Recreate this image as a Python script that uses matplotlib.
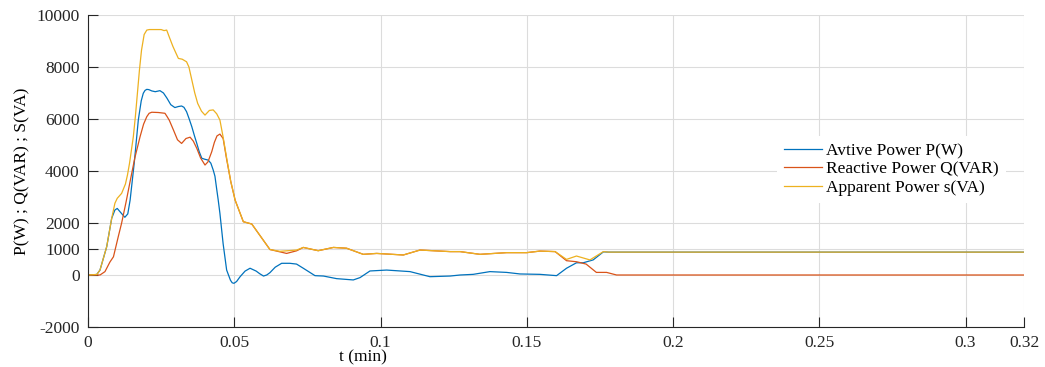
import matplotlib
matplotlib.use("Agg")
import matplotlib.pyplot as plt

# values (t in min, power in W / VAR / VA)
t_p = [0, 0.003, 0.0041, 0.0064, 0.0081, 0.0092, 0.0100, 0.0112, 0.0126, 0.0136, 0.0144,
       0.0158, 0.0172, 0.0182, 0.0189, 0.0195, 0.0201, 0.0208, 0.0218, 0.0230, 0.0246,
       0.0258, 0.0270, 0.0283, 0.0297, 0.0309, 0.0320, 0.0328, 0.0337, 0.0346, 0.0355,
       0.0364, 0.0372, 0.0380, 0.0389, 0.0400, 0.0411, 0.0420, 0.0428, 0.0434, 0.0440,
       0.0445, 0.0451, 0.0462, 0.0474, 0.0487, 0.0493, 0.0499, 0.0508, 0.0520, 0.0537,
       0.0554, 0.0575, 0.0587, 0.0600, 0.0611, 0.0622, 0.0640, 0.0662, 0.0690, 0.0713,
       0.0736, 0.0776, 0.0805, 0.0850, 0.0907, 0.0930, 0.0964, 0.1021, 0.1101, 0.1169,
       0.1238, 0.1272, 0.1317, 0.1374, 0.1431, 0.1477, 0.1545, 0.1602, 0.1636, 0.1670,
       0.1693, 0.1727, 0.1762, 0.1780, 0.2500, 0.3200]
p = [0, 20, 190, 1090, 2180, 2500, 2560, 2400, 2220, 2350, 2880,
     4300, 5960, 6700, 6990, 7100, 7140, 7130, 7080, 7050, 7090,
     7000, 6800, 6550, 6440, 6480, 6500, 6450, 6280, 6000, 5700,
     5350, 5060, 4750, 4490, 4450, 4420, 4300, 4040, 3800, 3300,
     2900, 2370, 1200, 190, -200, -300, -320, -250, -65, 150,
     260, 150, 50, -40, 0, 90, 300, 450, 450, 420,
     260, -25, -40, -140, -190, -100, 155, 190, 130, -65,
     -40, 0, 25, 130, 100, 40, 25, -25, 260, 470,
     470, 580, 890, 880, 880, 880]

t_q = [0, 0.0041, 0.0058, 0.0075, 0.0087, 0.0104, 0.0115, 0.0130, 0.0144, 0.0160, 0.0178,
       0.0190, 0.0201, 0.0209, 0.0218, 0.0240, 0.0263, 0.0270, 0.0278, 0.0292, 0.0306,
       0.0320, 0.0335, 0.0349, 0.0360, 0.0372, 0.0385, 0.0400, 0.0410, 0.0423, 0.0432,
       0.0441, 0.0451, 0.0462, 0.0474, 0.0488, 0.0503, 0.0531, 0.0560, 0.0622, 0.0679,
       0.0713, 0.0736, 0.0787, 0.0839, 0.0884, 0.0941, 0.0987, 0.1078, 0.1135, 0.1238,
       0.1272, 0.1340, 0.1431, 0.1500, 0.1545, 0.1597, 0.1636, 0.1670, 0.1703, 0.1738,
       0.1773, 0.1807, 0.2500, 0.3200]
q = [0, 0, 130, 500, 700, 1500, 2000, 2800, 3600, 4500, 5320,
     5800, 6090, 6220, 6260, 6250, 6220, 6100, 5950, 5580, 5200,
     5060, 5250, 5300, 5150, 4870, 4500, 4230, 4350, 4740, 5100,
     5350, 5420, 5250, 4450, 3600, 2880, 2050, 1960, 980, 830,
     930, 1060, 935, 1060, 1030, 795, 830, 770, 960, 900,
     900, 795, 860, 860, 920, 900, 550, 510, 420, 100,
     100, 0, 0, 0]

t_s = [0, 0.003, 0.0041, 0.0064, 0.0081, 0.0092, 0.0100, 0.0115, 0.0128, 0.0135, 0.0142,
       0.0155, 0.0162, 0.0169, 0.0176, 0.0183, 0.0192, 0.0201, 0.0210, 0.0235, 0.0250,
       0.0260, 0.0269, 0.0278, 0.0290, 0.0300, 0.0309, 0.0322, 0.0337, 0.0345, 0.0355,
       0.0365, 0.0375, 0.0388, 0.0400, 0.0415, 0.0428, 0.0440, 0.0451, 0.0462, 0.0474,
       0.0488, 0.0503, 0.0531, 0.0560, 0.0622, 0.0656, 0.0713, 0.0736, 0.0787, 0.0839,
       0.0884, 0.0941, 0.0987, 0.1078, 0.1135, 0.1238, 0.1272, 0.1340, 0.1431, 0.1500,
       0.1545, 0.1597, 0.1636, 0.1670, 0.1716, 0.1762, 0.1780, 0.2500, 0.3200]
s = [0, 20, 190, 1090, 2180, 2760, 2950, 3140, 3500, 3850, 4300,
     5320, 6100, 7000, 7900, 8650, 9250, 9420, 9440, 9440, 9440,
     9400, 9420, 9150, 8800, 8550, 8330, 8300, 8200, 8000, 7500,
     7000, 6600, 6300, 6150, 6330, 6350, 6200, 5960, 5300, 4500,
     3600, 2880, 2050, 1960, 980, 910, 960, 1060, 935, 1060,
     1030, 795, 830, 770, 960, 900, 900, 795, 860, 860,
     920, 900, 600, 730, 580, 900, 880, 880, 880]

x_ticks = [0, 0.05, 0.1, 0.15, 0.2, 0.25, 0.3, 0.32]
x_labels = ["0", "0.05", "0.1", "0.15", "0.2", "0.25", "0.3", "0.32"]
y_ticks = [-2000, 0, 1000, 2000, 4000, 6000, 8000, 10000]

plt.rcParams['font.family'] = ['Liberation Serif', 'DejaVu Serif']
plt.rcParams['font.size'] = 12.5
plt.rcParams['axes.unicode_minus'] = False

fig = plt.figure(figsize=(10.45, 3.67), dpi=100)
ax = fig.add_axes([88 / 1045, 1 - 327 / 367, 936 / 1045, 312 / 367])

ax.plot(t_p, p, color='#0072BD', lw=0.9, label='Avtive Power P(W)')
ax.plot(t_q, q, color='#D95319', lw=0.9, label='Reactive Power Q(VAR)')
ax.plot(t_s, s, color='#EDB120', lw=0.9, label='Apparent Power s(VA)')

ax.set_xlim(0, 0.32)
ax.set_ylim(-2000, 10000)
ax.set_xticks(x_ticks)
ax.set_xticklabels(x_labels)
ax.set_yticks(y_ticks)
ax.grid(True, color='#dcdcdc', lw=0.8)
ax.set_axisbelow(True)
ax.tick_params(direction='in', length=7, width=0.8, colors='#262626', pad=6)
for side in ['top', 'right']:
    ax.spines[side].set_visible(False)
for side in ['left', 'bottom']:
    ax.spines[side].set_color('#262626')

ax.set_xlabel('t (min)')
ax.xaxis.set_label_coords((363 - 88) / 936, -0.073)
ax.set_ylabel('P(W) ; Q(VAR) ; S(VA)', labelpad=4)

leg = ax.legend(loc='upper left', bbox_to_anchor=(0.736, 0.612), frameon=True,
                fancybox=False, edgecolor='none', framealpha=1, handlelength=2.2,
                handletextpad=0.25, labelspacing=0.12, borderaxespad=0)

fig.savefig('out.png', dpi=100)
